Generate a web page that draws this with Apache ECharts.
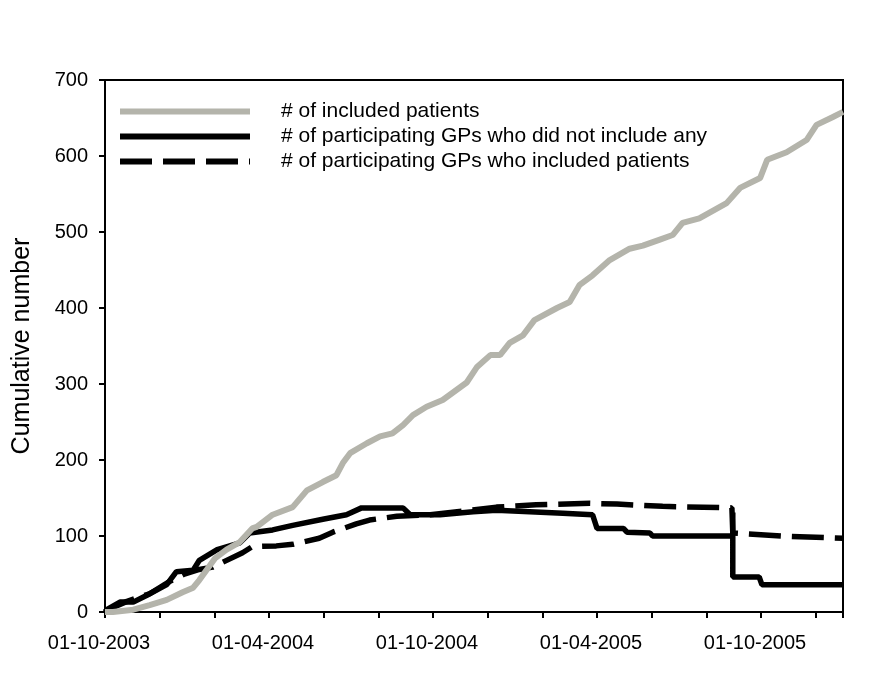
<!DOCTYPE html>
<html>
<head>
<meta charset="utf-8">
<script src="https://cdn.jsdelivr.net/npm/echarts@6/dist/echarts.min.js"></script>
<style>
  html, body { margin: 0; padding: 0; background: #fff; }
  #chart { width: 886px; height: 678px; }
</style>
</head>
<body>
<div id="chart"></div>
<script>
// # of included patients
const patientDates = [
  '2003-10-01', '2003-10-10', '2003-11-02', '2003-11-20', '2003-12-09', '2003-12-27',
  '2004-01-08', '2004-01-15', '2004-01-23', '2004-02-02', '2004-02-14', '2004-02-28',
  '2004-03-13', '2004-03-18', '2004-04-05', '2004-04-27', '2004-05-13', '2004-05-31',
  '2004-06-15', '2004-06-22', '2004-06-30', '2004-07-19', '2004-08-03', '2004-08-17',
  '2004-08-29', '2004-09-09', '2004-09-24', '2004-10-12', '2004-11-08', '2004-11-19',
  '2004-12-04', '2004-12-15', '2004-12-26', '2005-01-10', '2005-01-23', '2005-02-16',
  '2005-03-01', '2005-03-12', '2005-03-27', '2005-04-15', '2005-05-07', '2005-05-22',
  '2005-06-10', '2005-06-24', '2005-07-05', '2005-07-24', '2005-08-24', '2005-09-08',
  '2005-09-30', '2005-10-08', '2005-10-30', '2005-11-21', '2005-12-02', '2005-12-20',
  '2006-01-01'
]
const patientCounts = [
  0, 0, 3, 9, 16, 26,
  32, 42, 55, 71, 82, 92,
  110, 112, 128, 138, 160, 171,
  180, 196, 209, 222, 231, 235,
  246, 259, 270, 279, 302, 322,
  338, 338, 354, 364, 384, 400,
  408, 430, 443, 463, 478, 482,
  490, 496, 512, 518, 538, 558,
  571, 595, 605, 621, 641, 651,
  658
]

// # of participating GPs who did not include any
const gpNoneDates = [
  '2003-10-01', '2003-10-03', '2003-10-18', '2003-11-02', '2003-11-17', '2003-12-09',
  '2003-12-20', '2004-01-08', '2004-01-15', '2004-02-04', '2004-02-28', '2004-03-10',
  '2004-04-05', '2004-04-27', '2004-05-31', '2004-06-26', '2004-07-13', '2004-08-29',
  '2004-09-06', '2004-10-09', '2004-11-15', '2004-12-11', '2005-02-22', '2005-03-27',
  '2005-04-01', '2005-04-30', '2005-05-04', '2005-05-30', '2005-06-02', '2005-08-31',
  '2005-08-31', '2005-08-31', '2005-09-29', '2005-10-02', '2006-01-01'
]
const gpNoneCounts = [
  0, 3, 13, 13, 22, 36,
  53, 55, 68, 82, 91, 104,
  108, 114, 122, 128, 137, 137,
  128, 128, 132, 134, 130, 128,
  110, 110, 105, 104, 100, 100,
  131, 46, 46, 36, 36
]

// # of participating GPs who included patients
const gpInclDates = [
  '2003-10-01', '2003-10-12', '2003-10-26', '2003-11-20', '2003-12-12', '2003-12-29',
  '2004-01-15', '2004-01-30', '2004-03-02', '2004-03-13', '2004-04-09', '2004-04-27',
  '2004-05-27', '2004-06-11', '2004-07-07', '2004-07-22', '2004-08-22', '2004-09-28',
  '2004-12-11', '2005-01-25', '2005-03-24', '2005-04-23', '2005-06-13', '2005-08-30',
  '2005-08-31', '2005-10-24', '2006-01-01'
]
const gpInclCounts = [
  0, 7, 14, 24, 40, 50,
  56, 59, 78, 86, 87, 89,
  97, 105, 116, 121, 126, 128,
  138, 141, 143, 142, 139, 137,
  104, 100, 97
]

const seriesNames = [
  '# of included patients',
  '# of participating GPs who did not include any',
  '# of participating GPs who included patients'
]

const yTicks = [0, 100, 200, 300, 400, 500, 600, 700]

// months since 01-10-2003
function toMonths(str) {
  const [y, m, d] = str.split('-').map(Number)
  const dim = new Date(y, m, 0).getDate()
  return (y - 2003) * 12 + (m - 10) + (d - 1) / dim
}
function pairs(dates, vals) {
  return dates.map((d, i) => [toMonths(d), vals[i]])
}
function monthLabel(v) {
  if (Math.abs(v % 6) > 1e-6) return ''
  const total = 2003 * 12 + 9 + v
  const year = Math.floor(total / 12)
  const mon = (total % 12) + 1
  return '01-' + (mon < 10 ? '0' + mon : mon) + '-' + year
}

const font = 'Liberation Sans, Arial, sans-serif'
var myChart = echarts.init(document.getElementById('chart'))
let option = {
  backgroundColor: '#fff',
  animation: false,
  grid: {
    left: 105,
    right: 43,
    top: 80,
    bottom: 66,
    show: true,
    borderColor: '#000',
    borderWidth: 2,
  },
  legend: {
    orient: 'vertical',
    left: 117,
    top: 99,
    padding: 0,
    itemWidth: 130,
    itemHeight: 12,
    itemGap: 0,
    itemStyle: { opacity: 0 },
    lineStyle: { width: 6 },
    textStyle: {
      color: '#000',
      fontFamily: font,
      fontSize: 21,
      lineHeight: 25,
      padding: [0, 0, 0, 26],
    },
    data: seriesNames,
  },
  xAxis: {
    type: 'value',
    min: 0,
    max: 27,
    interval: 2,
    axisLine: { lineStyle: { color: '#000', width: 2 } },
    axisTick: { length: 6, lineStyle: { color: '#000', width: 2 } },
    axisLabel: {
      color: '#000',
      fontFamily: font,
      fontSize: 20,
      margin: 21,
      padding: [0, 12, 0, 0],
      formatter: monthLabel,
    },
    splitLine: { show: false },
  },
  yAxis: {
    type: 'value',
    min: yTicks[0],
    max: yTicks[yTicks.length - 1],
    interval: 100,
    name: 'Cumulative number',
    nameLocation: 'middle',
    nameRotate: 90,
    nameGap: 70,
    nameTextStyle: { color: '#000', fontFamily: font, fontSize: 25 },
    axisLine: { show: true, lineStyle: { color: '#000', width: 2 } },
    axisTick: { show: true, length: 6, lineStyle: { color: '#000', width: 2 } },
    axisLabel: { color: '#000', fontFamily: font, fontSize: 20, margin: 17 },
    splitLine: { show: false },
  },
  series: [
    {
      name: seriesNames[0],
      type: 'line',
      symbol: 'none',
      z: 3,
      color: '#b4b4ab',
      lineStyle: { color: '#b4b4ab', width: 6 },
      data: pairs(patientDates, patientCounts),
    },
    {
      name: seriesNames[1],
      type: 'line',
      symbol: 'none',
      z: 2,
      color: '#000',
      lineStyle: { color: '#000', width: 5.5 },
      data: pairs(gpNoneDates, gpNoneCounts),
    },
    {
      name: seriesNames[2],
      type: 'line',
      symbol: 'none',
      z: 2,
      color: '#000',
      lineStyle: { color: '#000', width: 5.5, type: [32, 11] },
      data: pairs(gpInclDates, gpInclCounts),
    },
  ],
}
myChart.setOption(option)
</script>
</body>
</html>
